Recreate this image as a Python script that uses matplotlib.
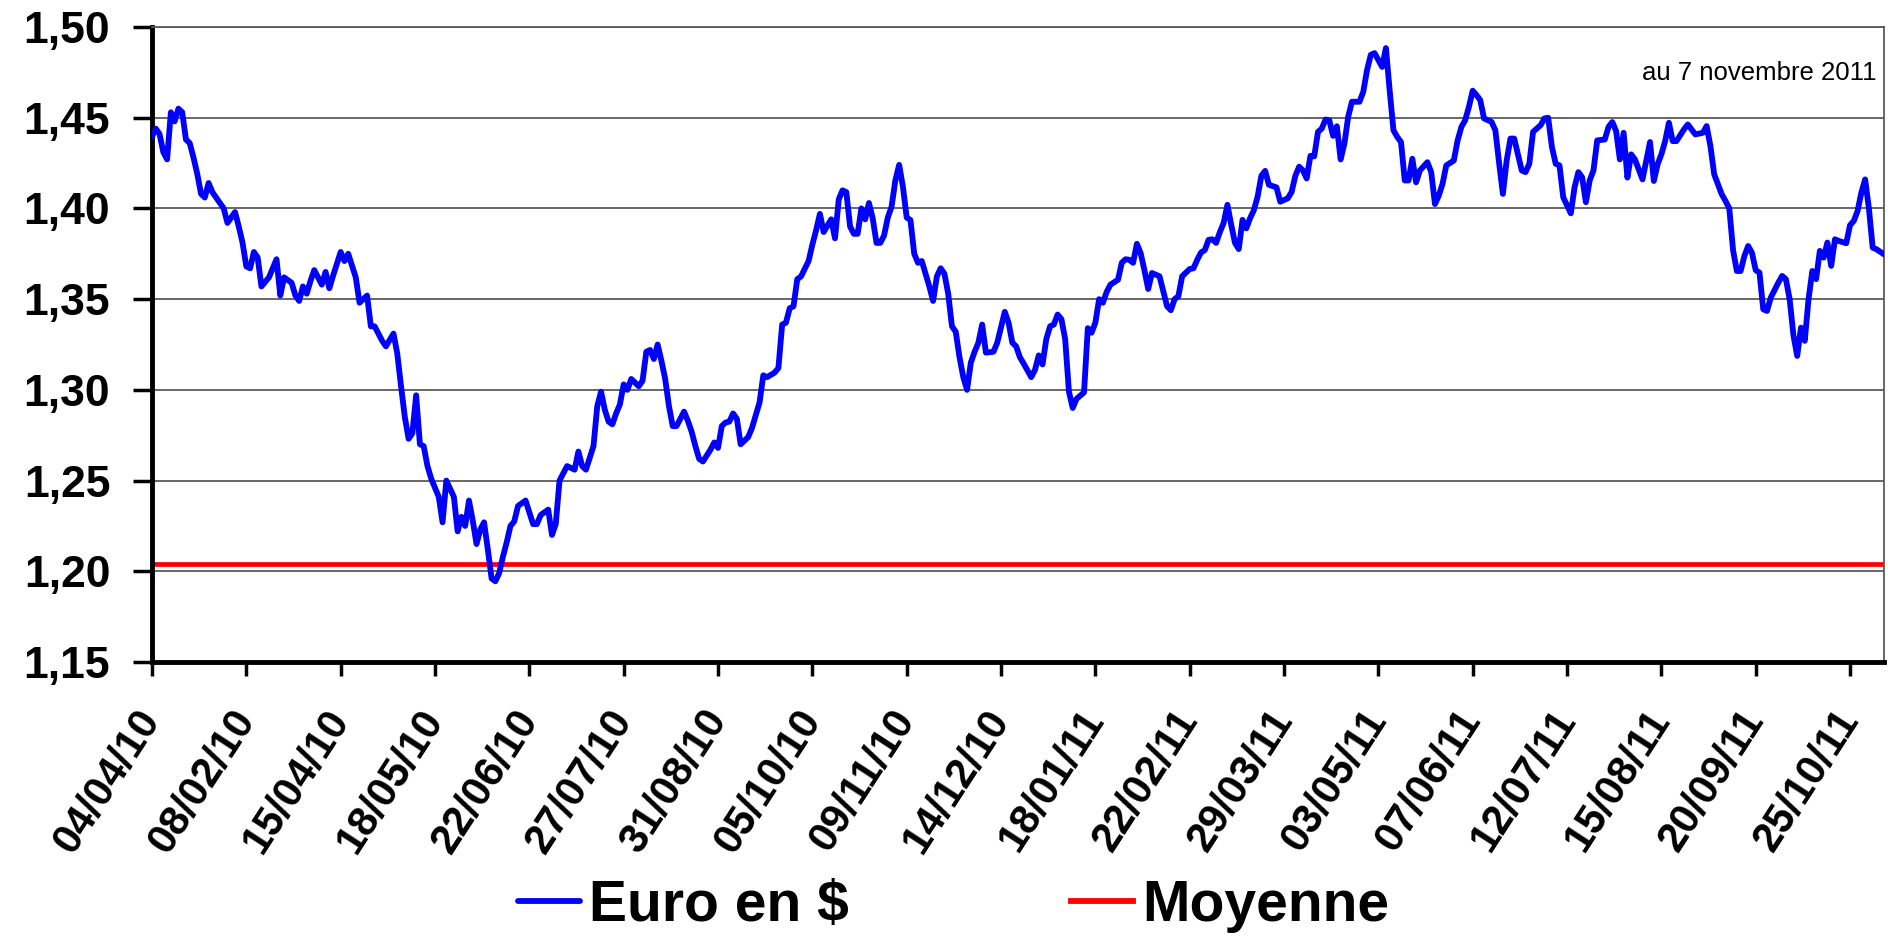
import matplotlib

matplotlib.use("Agg")
import matplotlib.pyplot as plt

# trading-day index (0 = first quote) and EUR/USD close
day_idx = [
    0, 1, 2, 3, 4, 5, 6, 7, 8, 9, 10, 11, 12, 13, 14, 15, 16, 17, 19, 20,
    22, 23, 24, 25, 26, 27, 28, 29, 31, 33, 34, 35, 37, 38, 39, 40, 41, 42, 43, 45,
    46, 47, 48, 50, 51, 52, 54, 55, 57, 58, 59, 61, 62, 64, 65, 66, 67, 68, 69, 70,
    71, 72, 73, 74, 76, 77, 78, 80, 81, 82, 83, 84, 85, 86, 87, 88, 89, 90, 91, 92,
    93, 94, 95, 96, 97, 99, 101, 102, 103, 105, 106, 107, 108, 109, 110, 112, 113, 114, 115, 117,
    118, 119, 120, 121, 122, 123, 124, 125, 126, 127, 129, 130, 131, 132, 133, 134, 135, 136, 137, 138,
    139, 141, 142, 143, 144, 145, 146, 148, 149, 150, 151, 152, 153, 154, 155, 156, 158, 159, 160, 161,
    162, 163, 165, 166, 167, 168, 169, 170, 171, 172, 174, 175, 176, 177, 178, 180, 181, 182, 183, 184,
    185, 186, 187, 188, 189, 190, 191, 192, 193, 194, 195, 196, 197, 198, 199, 200, 201, 202, 203, 204,
    205, 206, 207, 208, 209, 210, 211, 212, 213, 214, 215, 216, 217, 218, 219, 220, 221, 223, 224, 226,
    227, 228, 229, 230, 231, 233, 234, 235, 236, 237, 238, 239, 240, 241, 242, 243, 244, 245, 247, 248,
    249, 250, 251, 252, 253, 254, 256, 257, 258, 259, 260, 261, 262, 263, 264, 265, 267, 268, 269, 270,
    271, 272, 273, 275, 276, 277, 278, 279, 280, 281, 282, 283, 284, 285, 286, 287, 288, 289, 290, 291,
    292, 293, 294, 295, 296, 298, 299, 301, 302, 303, 304, 305, 306, 307, 308, 309, 310, 311, 312, 313,
    314, 315, 316, 317, 318, 320, 321, 322, 323, 324, 326, 327, 328, 329, 330, 331, 332, 333, 334, 335,
    336, 338, 339, 340, 341, 342, 343, 345, 346, 347, 348, 349, 350, 351, 352, 353, 355, 356, 357, 358,
    359, 360, 361, 363, 364, 365, 366, 368, 369, 370, 371, 372, 373, 374, 376, 377, 378, 379, 380, 381,
    382, 383, 385, 386, 387, 388, 389, 390, 391, 392, 393, 395, 396, 397, 398, 399, 400, 401, 402, 403,
    404, 406, 407, 408, 409, 411, 412, 413, 414, 415, 416, 417, 418, 419, 420, 421, 422, 423, 424, 425,
    426, 427, 428, 429, 431, 432, 433, 434, 435, 436, 437, 438, 439, 440, 441, 442, 443, 444, 445, 446,
    447, 449, 450, 451, 452, 453, 454, 455, 456, 457, 459,
]
eur_usd = [
    1.4395, 1.444, 1.441, 1.431, 1.427, 1.453, 1.448, 1.455, 1.453, 1.438,
    1.436, 1.428, 1.419, 1.408, 1.406, 1.414, 1.409, 1.406, 1.400, 1.392,
    1.398, 1.390, 1.381, 1.368, 1.367, 1.376, 1.373, 1.357, 1.362, 1.372,
    1.352, 1.362, 1.359, 1.352, 1.349, 1.357, 1.353, 1.360, 1.366, 1.358,
    1.365, 1.356, 1.363, 1.376, 1.371, 1.375, 1.362, 1.348, 1.352, 1.335,
    1.335, 1.327, 1.324, 1.331, 1.320, 1.302, 1.285, 1.273, 1.276, 1.297,
    1.270, 1.269, 1.258, 1.251, 1.241, 1.227, 1.250, 1.241, 1.222, 1.230,
    1.225, 1.239, 1.228, 1.215, 1.223, 1.227, 1.212, 1.196, 1.1945, 1.199,
    1.208, 1.216, 1.225, 1.2275, 1.236, 1.239, 1.226, 1.226, 1.231, 1.234,
    1.220, 1.226, 1.250, 1.254, 1.258, 1.256, 1.266, 1.258, 1.256, 1.269,
    1.291, 1.299, 1.289, 1.2825, 1.281, 1.287, 1.292, 1.303, 1.300, 1.306,
    1.302, 1.305, 1.321, 1.322, 1.317, 1.325, 1.316, 1.306, 1.291, 1.280,
    1.280, 1.288, 1.283, 1.277, 1.269, 1.262, 1.2605, 1.267, 1.271, 1.268,
    1.280, 1.282, 1.2825, 1.287, 1.284, 1.270, 1.274, 1.279, 1.286, 1.293,
    1.308, 1.307, 1.3095, 1.312, 1.336, 1.337, 1.345, 1.346, 1.361, 1.3625,
    1.371, 1.380, 1.388, 1.397, 1.387, 1.394, 1.3835, 1.405, 1.410, 1.409,
    1.390, 1.386, 1.386, 1.400, 1.394, 1.403, 1.3945, 1.381, 1.381, 1.385,
    1.395, 1.401, 1.4155, 1.424, 1.412, 1.395, 1.3936, 1.375, 1.370, 1.371,
    1.364, 1.357, 1.349, 1.3625, 1.367, 1.364, 1.353, 1.335, 1.332, 1.318,
    1.307, 1.300, 1.315, 1.321, 1.326, 1.336, 1.3205, 1.321, 1.326, 1.343,
    1.337, 1.326, 1.324, 1.318, 1.3145, 1.307, 1.311, 1.319, 1.314, 1.328,
    1.335, 1.336, 1.3415, 1.339, 1.328, 1.299, 1.290, 1.295, 1.2986, 1.334,
    1.3315, 1.337, 1.350, 1.348, 1.354, 1.358, 1.3607, 1.370, 1.372, 1.3717,
    1.370, 1.3805, 1.3754, 1.366, 1.3556, 1.3644, 1.3626, 1.3543, 1.3461, 1.3439,
    1.350, 1.3516, 1.3626, 1.3666, 1.367, 1.3717, 1.3757, 1.377, 1.3827, 1.383,
    1.381, 1.387, 1.392, 1.402, 1.391, 1.381, 1.3776, 1.3937, 1.389, 1.3946,
    1.399, 1.4065, 1.418, 1.4207, 1.413, 1.4116, 1.4037, 1.4056, 1.409, 1.418,
    1.423, 1.421, 1.4165, 1.429, 1.4287, 1.4422, 1.444, 1.449, 1.4486, 1.440,
    1.4453, 1.427, 1.4357, 1.4505, 1.4588, 1.4588, 1.4643, 1.4763, 1.4847, 1.4856,
    1.478, 1.4884, 1.465, 1.4431, 1.4394, 1.4366, 1.4154, 1.4154, 1.4274, 1.4144,
    1.4209, 1.4255, 1.420, 1.4024, 1.407, 1.4135, 1.4237, 1.4264, 1.4375, 1.4449,
    1.4486, 1.456, 1.4649, 1.4625, 1.4597, 1.4496, 1.4477, 1.4431, 1.425, 1.408,
    1.4264, 1.4385, 1.4385, 1.4209, 1.420, 1.4246, 1.4422, 1.4459, 1.4496, 1.450,
    1.4338, 1.4246, 1.4237, 1.4061, 1.3973, 1.4117, 1.420, 1.4172, 1.4034, 1.4154,
    1.4209, 1.4375, 1.438, 1.445, 1.4476, 1.4427, 1.427, 1.4417, 1.417, 1.4298,
    1.427, 1.416, 1.4262, 1.4366, 1.4151, 1.4243, 1.4298, 1.4371, 1.4472, 1.4371,
    1.4371, 1.4436, 1.4463, 1.4436, 1.4408, 1.4417, 1.4454, 1.4344, 1.4188, 1.4133,
    1.4078, 1.4041, 1.400, 1.377, 1.3655, 1.3655, 1.3738, 1.3793, 1.3756, 1.366,
    1.3646, 1.3444, 1.3435, 1.3509, 1.3591, 1.3628, 1.361, 1.3499, 1.330, 1.3187,
    1.3343, 1.327, 1.350, 1.3655, 1.361, 1.3766, 1.3729, 1.3812, 1.3683, 1.383,
    1.3821, 1.3808, 1.3908, 1.3931, 1.3986, 1.4087, 1.416, 1.400, 1.3784, 1.3775,
    1.3747,
]
moyenne = 1.204
last_day = 459

tick_days = list(range(0, 451, 25))
tick_labels = [
    "04/04/10", "08/02/10", "15/04/10", "18/05/10", "22/06/10", "27/07/10",
    "31/08/10", "05/10/10", "09/11/10", "14/12/10", "18/01/11", "22/02/11",
    "29/03/11", "03/05/11", "07/06/11", "12/07/11", "15/08/11", "20/09/11",
    "25/10/11",
]
y_ticks = [1.15, 1.20, 1.25, 1.30, 1.35, 1.40, 1.45, 1.50]

plt.rcParams["font.family"] = ["Liberation Sans", "DejaVu Sans"]

W, H = 1888, 938
fig = plt.figure(figsize=(W / 100, H / 100), dpi=100)
ax = fig.add_axes([152 / W, 1 - 662 / H, (1884 - 152) / W, (662 - 27) / H])

ax.plot(day_idx, eur_usd, color="#0000ff", lw=4.2, solid_joinstyle="round",
        solid_capstyle="round", label="Euro en $", zorder=3)
ax.axhline(moyenne, color="#ff0000", lw=3.4, label="Moyenne", zorder=2)

ax.set_xlim(0, last_day)
ax.set_ylim(1.15, 1.50)
ax.set_yticks(y_ticks)
ax.set_yticklabels([f"{v:.2f}".replace(".", ",") for v in y_ticks],
                   fontsize=32, fontweight="bold")
ax.set_xticks(tick_days)
ax.set_xticklabels(tick_labels, fontsize=30, fontweight="bold",
                   rotation=57, ha="right", va="center", rotation_mode="anchor")

ax.yaxis.grid(True, color="#5a5a5a", lw=1.3)
ax.set_axisbelow(True)
for side in ("left", "bottom"):
    ax.spines[side].set_linewidth(3.5)
    ax.spines[side].set_color("black")
for side in ("top", "right"):
    ax.spines[side].set_linewidth(1.3)
    ax.spines[side].set_color("#5a5a5a")
ax.tick_params(axis="y", direction="out", length=14, width=2.5, pad=16)
ax.tick_params(axis="x", direction="out", length=10, width=2.5, pad=27)

# the reference runs this note into the right edge; keep it just inside
fig.text(1642 / W, 1 - 80 / H, "au 7 novembre 2011", fontsize=18.5,
         ha="left", va="baseline")

fig.legend(loc="center", bbox_to_anchor=(0.505, 0.034), ncol=2, frameon=False,
           prop={"size": 41, "weight": "bold"}, handlelength=1.1,
           handletextpad=0.15, columnspacing=3.9)
for line in fig.legends[0].get_lines():
    line.set_linewidth(4.2)

fig.savefig("out.png", dpi=100)
